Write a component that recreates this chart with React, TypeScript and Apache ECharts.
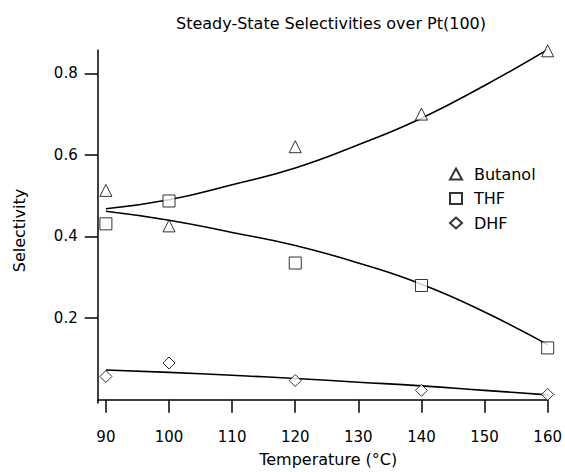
import React, { useEffect, useRef } from "react";
import * as echarts from "echarts";

const temps = [90, 100, 120, 140, 160];
const butanol = [0.513, 0.426, 0.62, 0.70, 0.855];
const thf = [0.431, 0.487, 0.335, 0.28, 0.127];
const dhf = [0.057, 0.09, 0.047, 0.023, 0.013];

const fitTemps = [90, 100, 110, 120, 130, 140, 150, 160];
const butanolFit = [0.468, 0.49, 0.527, 0.568, 0.625, 0.69, 0.77, 0.858];
const thfFit = [0.462, 0.44, 0.41, 0.378, 0.335, 0.283, 0.215, 0.135];
const dhfFit = [0.073, 0.067, 0.06, 0.052, 0.043, 0.034, 0.023, 0.012];

const xTicks = [90, 100, 110, 120, 130, 140, 150, 160];
const yTicks = [0.2, 0.4, 0.6, 0.8];

const FONT = "DejaVu Sans, sans-serif";

export default function App() {
  const ref = useRef<HTMLDivElement>(null);
  useEffect(() => {
    const chart = echarts.init(ref.current!, null, { renderer: "svg" });
    const pair = (xs: number[], ys: number[]) => xs.map((x, i) => [x, ys[i]]);
    const scatter = (name: string, symbol: string, size: number, data: number[]) => ({
      name,
      type: "scatter",
      symbol,
      symbolSize: size,
      data: pair(temps, data),
      itemStyle: { color: "#fff", borderColor: "#000", borderWidth: 1 },
      z: 3,
    });
    const fit = (ys: number[]) => ({
      type: "line",
      smooth: true,
      symbol: "none",
      data: pair(fitTemps, ys),
      lineStyle: { color: "#000", width: 1.6 },
      z: 2,
    });
    chart.setOption({
      animation: false,
      backgroundColor: "#fff",
      title: {
        text: "Steady-State Selectivities over Pt(100)",
        left: 326,
        top: 10,
        textAlign: "center",
        textStyle: { fontFamily: FONT, fontSize: 16, fontWeight: "normal", color: "#000" },
      },
      grid: { left: 97.7, top: 50, width: 450.6, height: 356.7 },
      legend: {
        orient: "vertical",
        left: 444,
        top: 161,
        itemWidth: 12,
        itemHeight: 11,
        itemGap: 8.5,
        data: ["Butanol", "THF", "DHF"],
        textStyle: { fontFamily: FONT, fontSize: 16, color: "#000", padding: [0, 0, 0, 7] },
      },
      xAxis: {
        type: "value",
        min: 88.7,
        max: 160,
        name: "Temperature (°C)",
        nameLocation: "middle",
        nameGap: 48,
        nameTextStyle: { fontFamily: FONT, fontSize: 16, color: "#000", padding: [0, 0, 0, 11] },
        axisLine: { show: true, lineStyle: { color: "#000", width: 1.5 } },
        axisTick: { show: true, length: 13, customValues: xTicks, lineStyle: { color: "#000", width: 1.5 } },
        axisLabel: { customValues: xTicks, margin: 26, fontFamily: FONT, fontSize: 15, color: "#000" },
        splitLine: { show: false },
      },
      yAxis: {
        type: "value",
        min: -0.008,
        max: 0.857,
        name: "Selectivity",
        nameLocation: "middle",
        nameGap: 70,
        nameRotate: 90,
        nameTextStyle: { fontFamily: FONT, fontSize: 16, color: "#000", padding: [0, 8, 0, 0] },
        axisLine: { show: true, lineStyle: { color: "#000", width: 1.5 } },
        axisTick: { show: true, length: 13, customValues: yTicks, lineStyle: { color: "#000", width: 1.5 } },
        axisLabel: {
          customValues: yTicks,
          margin: 20,
          fontFamily: FONT,
          fontSize: 15,
          color: "#000",
          formatter: (v: number) => v.toFixed(1),
        },
        splitLine: { show: false },
      },
      series: [
        fit(butanolFit),
        fit(thfFit),
        fit(dhfFit),
        scatter("Butanol", "triangle", 12, butanol),
        scatter("THF", "rect", 12, thf),
        scatter("DHF", "diamond", 12, dhf),
      ],
    });
    return () => chart.dispose();
  }, []);
  return (
    <div
      ref={ref}
      style={{ position: "absolute", left: 0, top: 0, width: 565, height: 472 }}
    />
  );
}
